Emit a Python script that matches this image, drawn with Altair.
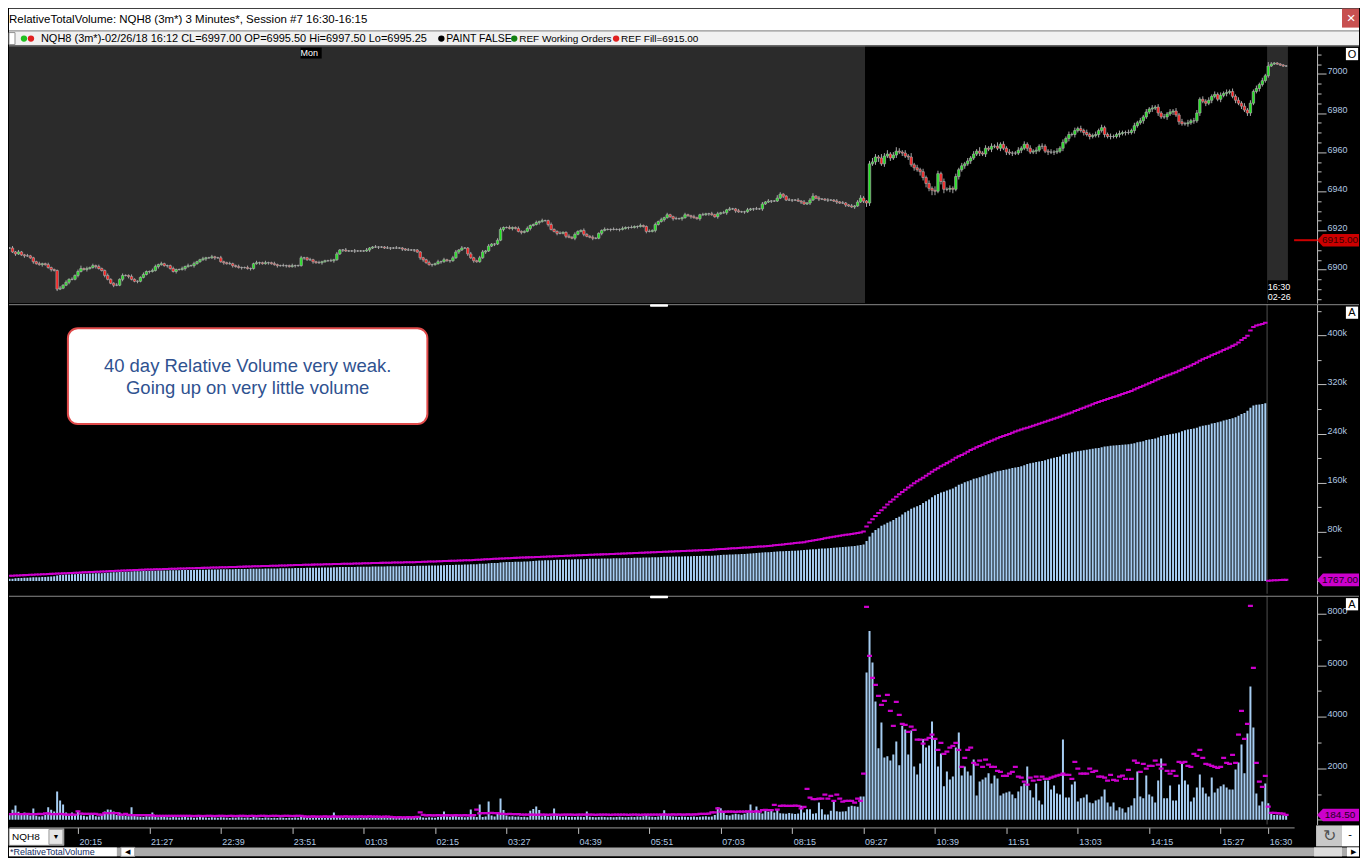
import altair as alt
import numpy as np
import pandas as pd

FONT = "Liberation Sans"

# ------------------------------------------------------------------ data
CLOSE = [
    6911, 6911, 6909, 6908, 6909, 6907.5, 6907, 6907, 6906, 6904,
    6903, 6902.5, 6903, 6902.5, 6901, 6900, 6899.5, 6890, 6890.5, 6892,
    6893.5, 6895, 6895, 6897, 6899, 6900.5, 6900, 6900.5, 6901, 6902,
    6901.5, 6900.5, 6899.5, 6897, 6895, 6893, 6892, 6892, 6895, 6897,
    6897, 6896.5, 6895, 6894, 6894, 6896, 6897.5, 6899, 6899, 6899.5,
    6901.5, 6902.5, 6903, 6902, 6902, 6900.5, 6899, 6900, 6900, 6900.5,
    6901.5, 6902, 6902, 6903, 6904, 6905, 6905.5, 6906, 6906, 6906.5,
    6906, 6906, 6904, 6903.5, 6903, 6903, 6902, 6901.5, 6901, 6901,
    6901, 6900.5, 6900.5, 6903, 6903.5, 6903.5, 6903, 6903.5, 6903.5, 6903,
    6902.5, 6902, 6902, 6902, 6902, 6901.5, 6902, 6902, 6902, 6906,
    6906, 6905, 6905, 6904, 6903.5, 6903.5, 6904, 6904.5, 6904.5, 6904.5,
    6905, 6908, 6910, 6910, 6909.5, 6909.5, 6909.5, 6909.5, 6909.5, 6909.5,
    6909.5, 6910, 6911, 6911.5, 6911.5, 6911.5, 6911.5, 6911, 6911, 6911,
    6911, 6911, 6911, 6910.5, 6910, 6910, 6910, 6910, 6909, 6906,
    6905, 6903.5, 6902.5, 6902.5, 6903, 6904, 6904, 6905, 6904.5, 6904.5,
    6906, 6909, 6910, 6911, 6911, 6908, 6906, 6904.5, 6904, 6906,
    6909, 6909.5, 6912, 6913, 6913, 6915, 6920.5, 6921.5, 6921.5, 6921,
    6921.5, 6921, 6919.5, 6919, 6919.5, 6921, 6922.5, 6923, 6924, 6924.5,
    6925, 6925, 6923, 6920.5, 6919.5, 6918.5, 6918.5, 6919, 6917, 6916.5,
    6916, 6918, 6919.5, 6920, 6918, 6917, 6916.5, 6916, 6916, 6918.5,
    6920, 6920.5, 6920.5, 6920.5, 6920.5, 6920.5, 6920.5, 6921, 6921.5, 6921.5,
    6921.5, 6922, 6922, 6922.5, 6922, 6919.5, 6919.5, 6920, 6923, 6924.5,
    6925.5, 6926.5, 6928, 6927, 6926, 6926, 6926, 6926.5, 6928, 6927.5,
    6927, 6926.5, 6926, 6928, 6928, 6928.5, 6928.5, 6928, 6927, 6928.5,
    6929, 6929, 6930.5, 6931, 6931, 6930, 6929.5, 6929.5, 6929.5, 6930.5,
    6931, 6931, 6931, 6931, 6933.5, 6934.5, 6935, 6935, 6935, 6936.5,
    6938.5, 6937.5, 6935.5, 6935.5, 6935.5, 6935.5, 6935, 6934.5, 6933.5, 6934,
    6935.5, 6937.5, 6936.5, 6936, 6936, 6935.5, 6935.5, 6935.5, 6935, 6934.5,
    6934, 6934, 6933, 6932.5, 6932, 6932.5, 6934.5, 6936.5, 6935, 6934,
    6954, 6955, 6957.5, 6957, 6954, 6958, 6959, 6957, 6958.5, 6960.5,
    6960, 6959.5, 6958, 6957.5, 6953.5, 6952, 6951, 6950, 6947, 6944,
    6941.5, 6940.5, 6940, 6949, 6945, 6941, 6941, 6941.5, 6941, 6947.5,
    6951, 6953, 6954, 6955.5, 6957, 6959, 6960.5, 6959.5, 6959, 6962,
    6961.5, 6963, 6963, 6962, 6964, 6962, 6960, 6959.5, 6959.5, 6959.5,
    6961, 6962, 6964, 6962, 6960, 6960.5, 6961, 6963, 6963, 6960.5,
    6960, 6960, 6960, 6960.5, 6962, 6965, 6967, 6969, 6969, 6971,
    6972, 6971, 6970, 6969, 6968, 6968.5, 6969, 6971, 6972.5, 6969,
    6968, 6968, 6968, 6969, 6969.5, 6970, 6970, 6970, 6971, 6973.5,
    6975, 6976, 6978, 6980.5, 6982, 6982.5, 6983, 6980, 6978, 6978,
    6979.5, 6980.5, 6981, 6979, 6975.5, 6974.5, 6974.5, 6975, 6976, 6976,
    6980, 6987, 6986, 6985, 6986.5, 6988.5, 6989.5, 6987, 6989, 6990,
    6990.5, 6991, 6988.5, 6986.5, 6985, 6983.5, 6981.5, 6980, 6985, 6991,
    6992.5, 6994.5, 6996.5, 6999, 7004, 7005, 7005.5, 7005, 7004.5, 7004,
    7004,
]

# upper / lower wick lengths, in half points
UPW = [
    2,1,2,1,2,1,1,2,1,1,1,2,1,1,2,1,1,1,2,1,
    2,1,2,1,2,3,1,2,1,2,1,2,1,1,2,1,1,2,1,2,
    1,1,2,1,1,1,2,1,1,2,2,1,2,1,1,1,2,1,1,2,
    1,2,1,2,1,1,2,1,1,2,1,1,2,1,1,2,1,1,2,1,
    1,2,1,1,2,1,1,2,1,1,2,1,1,2,1,1,2,1,1,2,
    1,1,2,1,1,2,1,1,1,2,1,2,1,1,2,1,1,2,1,1,
    1,2,1,1,2,1,1,1,2,1,1,2,1,1,1,2,1,1,1,1,
    1,1,2,1,1,2,1,2,1,1,2,2,1,2,1,1,2,1,1,2,
    2,1,2,1,1,2,2,1,1,2,1,1,2,1,1,2,1,1,2,1,
    2,1,1,2,1,1,2,1,1,2,1,2,1,1,2,1,1,2,1,1,
    1,2,1,1,2,1,1,2,1,1,2,1,1,2,1,1,2,1,2,1,
    2,1,2,1,1,2,1,1,2,1,1,2,1,1,2,1,1,2,1,2,
    1,2,1,2,1,1,2,1,1,2,1,1,2,1,2,1,2,1,1,3,
    2,1,1,2,1,1,2,1,2,1,2,3,1,2,1,1,2,1,1,2,
    1,2,1,1,2,1,2,3,2,1,3,4,3,2,4,3,4,2,3,4,
    3,2,3,2,4,2,3,2,3,2,3,2,4,3,2,3,2,3,2,3,
    2,3,2,3,2,3,2,4,2,3,2,3,2,4,2,3,2,3,2,2,
    3,2,3,2,3,2,3,2,3,2,2,3,2,3,2,3,2,3,2,3,
    2,3,2,3,2,2,3,2,3,2,2,3,2,2,3,2,2,3,2,3,
    2,3,2,3,2,3,2,3,2,3,2,3,2,3,2,3,2,3,2,3,
    3,2,3,2,3,2,3,2,3,2,3,2,3,2,3,2,3,2,3,2,
    3,2,3,2,4,2,1,1,1,1,1,
]
DNW = [
    2,1,1,2,1,1,2,1,1,2,1,1,2,1,1,2,1,2,1,1,
    1,2,1,1,2,1,1,2,1,1,2,1,1,2,1,1,2,1,1,2,
    1,2,1,1,2,1,1,1,2,1,1,2,1,1,2,1,1,2,1,1,
    2,1,1,2,1,1,1,2,1,1,2,1,1,2,1,1,2,1,1,2,
    1,1,2,1,1,2,1,1,2,1,1,2,1,1,2,1,1,2,1,1,
    2,1,1,2,1,1,2,1,1,1,2,1,1,2,1,1,1,2,1,1,
    1,1,2,1,1,2,1,1,1,2,1,1,1,2,1,1,1,2,1,2,
    2,1,1,2,1,1,2,1,1,2,1,1,2,1,1,2,1,2,1,1,
    1,2,1,1,2,1,1,2,1,1,2,1,1,2,1,1,2,1,1,2,
    1,1,2,1,1,2,1,1,2,1,1,2,1,1,2,1,1,2,1,1,
    2,1,1,2,1,1,2,1,1,2,1,1,2,1,1,2,1,1,2,1,
    1,2,1,1,2,1,1,2,1,1,2,1,1,2,1,1,2,1,1,2,
    1,1,2,1,1,2,1,1,2,1,1,2,1,1,2,1,1,2,1,1,
    1,2,1,1,2,1,1,2,1,1,2,1,1,2,1,1,2,1,1,2,
    1,1,2,1,1,2,1,1,2,4,3,2,3,4,2,3,2,3,2,3,
    2,3,2,3,2,3,2,4,3,4,3,5,4,2,3,4,2,3,4,2,
    3,2,3,2,3,2,2,3,2,3,2,3,2,2,3,2,3,2,3,2,
    2,3,2,3,2,2,3,2,3,2,3,2,3,2,2,3,2,3,2,3,
    2,2,3,2,3,2,2,3,2,3,2,3,2,2,3,2,3,2,2,3,
    2,2,3,2,2,3,2,3,2,2,3,2,3,2,3,2,2,3,2,3,
    2,3,2,3,2,3,2,2,3,2,3,2,2,3,2,3,2,3,3,2,
    2,3,2,2,2,1,1,1,1,1,1,
]

VOL = [
    200, 240, 390, 555, 310, 210, 285, 180, 160, 440,
    150, 130, 140, 180, 480, 390, 320, 1100, 750, 595,
    285, 160, 285, 180, 350, 170, 150, 130, 170, 220,
    140, 130, 180, 320, 400, 390, 320, 180, 285, 160,
    150, 140, 480, 170, 130, 120, 110, 140, 130, 285,
    110, 100, 120, 110, 100, 90, 110, 100, 90, 100,
    110, 90, 100, 80, 90, 110, 100, 90, 80, 100,
    90, 80, 100, 90, 80, 70, 90, 80, 100, 90,
    80, 90, 70, 110, 90, 80, 70, 90, 80, 70,
    80, 70, 90, 80, 70, 80, 70, 90, 80, 180,
    100, 80, 70, 80, 90, 70, 80, 70, 90, 80,
    285, 130, 110, 80, 70, 80, 90, 70, 80, 70,
    80, 90, 70, 80, 70, 80, 70, 90, 70, 80,
    70, 80, 90, 70, 80, 70, 80, 90, 110, 130,
    90, 80, 100, 90, 80, 110, 120, 320, 130, 110,
    180, 140, 110, 120, 100, 110, 400, 130, 110, 595,
    110, 130, 710, 160, 130, 230, 825, 380, 160, 130,
    140, 120, 130, 110, 120, 100, 350, 420, 515, 380,
    130, 160, 120, 140, 440, 160, 130, 120, 140, 110,
    120, 110, 130, 120, 110, 320, 120, 110, 100, 110,
    120, 110, 100, 110, 100, 110, 120, 110, 100, 110,
    120, 110, 130, 120, 140, 180, 130, 120, 110, 130,
    180, 370, 160, 140, 130, 120, 110, 130, 120, 110,
    120, 130, 110, 120, 130, 140, 120, 130, 180, 480,
    450, 280, 180, 160, 200, 230, 210, 190, 230, 280,
    595, 260, 515, 280, 240, 400, 310, 360, 280, 380,
    250, 240, 230, 260, 240, 220, 240, 540, 280, 410,
    410, 230, 250, 670, 410, 200, 200, 350, 700, 330,
    310, 320, 330, 500, 540, 520, 500, 905, 905,
    5715, 7330, 6100, 4590, 2770, 3775, 2420, 2460, 2300, 2535,
    3040, 2110, 3650, 3500, 2535, 3465, 2070, 1760, 2185, 3130,
    2805, 2885, 3815, 3130, 2070, 2575, 1295, 1875, 1565, 1680,
    2805, 3390, 1720, 2070, 1875, 1720, 2340, 945, 1485, 1565,
    1640, 1800, 1410, 1720, 1605, 945, 1020, 1060, 1100, 980,
    830, 1100, 1295, 1410, 2070, 1140, 865, 1410, 750, 595,
    1525, 1525, 1175, 1330, 1020, 980, 3115, 865, 865, 1370,
    1485, 710, 830, 865, 980, 670, 635, 750, 790, 905,
    1175, 670, 515, 670, 360, 480, 440, 285, 480, 555,
    830, 1875, 905, 830, 1720, 980, 905, 670, 1525, 2380,
    830, 830, 1330, 750, 750, 1370, 2185, 1525, 1370, 710,
    865, 1255, 1760, 1255, 1020, 905, 1640, 1060, 1215, 1295,
    1370, 1255, 1175, 1175, 1950, 2225, 2920, 1800, 3350, 5170,
    3580, 1020, 555, 710, 1410,
    635, 230, 180, 190, 170, 178, 184,
]

AVG = [
    220, 215, 220, 225, 220, 215, 220, 225, 220, 215,
    220, 225, 220, 245, 245, 220, 215, 220, 225, 220,
    200, 195, 195, 200, 320, 240, 230, 230, 225, 230,
    225, 200, 195, 260, 255, 260, 255, 260, 200, 195,
    230, 185, 180, 180, 175, 180, 175, 180, 175, 170,
    150, 145, 150, 145, 150, 145, 150, 145, 145, 150,
    145, 150, 145, 140, 150, 145, 140, 145, 150, 145,
    140, 145, 150, 145, 140, 145, 150, 140, 145, 150,
    145, 140, 150, 145, 140, 145, 150, 145, 140, 145,
    150, 145, 140, 145, 150, 145, 140, 145, 150, 145,
    130, 125, 120, 130, 125, 120, 125, 130, 120, 125,
    130, 125, 120, 125, 130, 120, 125, 120, 125, 130,
    120, 125, 130, 120, 125, 120, 115, 120, 125, 115,
    100, 95, 100, 90, 95, 100, 95, 100, 110, 285,
    190, 170, 175, 165, 170, 175, 165, 170, 175, 165,
    170, 175, 165, 170, 175, 170, 165, 175, 390, 250,
    260, 255, 260, 265, 255, 260, 230, 225, 220, 225,
    220, 215, 220, 200, 195, 195, 200, 195, 190, 195,
    200, 195, 190, 195, 200, 195, 190, 195, 200, 195,
    195, 190, 195, 200, 195, 195, 200, 195, 190, 195,
    200, 195, 195, 190, 200, 195, 195, 200, 195, 190,
    195, 200, 195, 190, 195, 200, 195, 195, 200, 195,
    200, 205, 200, 195, 205, 200, 205, 200, 195, 205,
    200, 205, 210, 230, 225, 230, 235, 285, 290, 440,
    310, 305, 310, 315, 310, 305, 310, 315, 310, 320,
    315, 310, 320, 315, 375, 380, 370, 375, 580, 390,
    540, 545, 540, 535, 540, 545, 540, 440, 500, 1200,
    855, 800, 800, 815, 815, 970, 815, 930, 735, 970,
    815, 700, 735, 735, 735, 660, 815, 735, 1785,
    8260, 6360, 5510, 5235, 4810, 4460, 4615, 4850, 4230, 3645,
    4575, 4070, 3725, 3685, 3415, 3610, 3490, 3105, 3105, 2950,
    3105, 3180, 3300, 3140, 2715, 2985, 2560, 2640, 2795, 2870,
    2985, 2715, 2055, 2405, 2715, 2795, 2210, 2135, 2290, 2055,
    2330, 2135, 2055, 2055, 1900, 1860, 1705, 1705, 1785, 1860,
    2055, 1670, 1630, 1475, 1360, 1630, 1515, 1670, 1550, 1670,
    1590, 1590, 1630, 1670, 1710, 1745, 1785, 1745, 1745, 1590,
    2250, 1980, 1785, 1785, 1785, 1980, 1860, 1900, 1670, 1670,
    1630, 1515, 1745, 1550, 1515, 1670, 1710, 1590, 1940, 1590,
    2290, 2210, 1860, 2170, 1980, 2095, 2095, 2290, 2135, 1980,
    2135, 1900, 1785, 1900, 1705, 2250, 2210, 2250, 2095, 2055,
    2560, 2480, 2715, 2405, 2170, 2135, 2095, 2055, 2015, 2055,
    2405, 2210, 2170, 2520, 2210, 3300, 4230, 3140, 3725, 8300,
    5895, 2210, 1475, 1280, 1705,
    505, 270, 270, 260, 250, 240, 184.5,
]

FIRST_OPEN = 6918.0
NEW_SESSION_START = 424      # first bar of the 16:30 session
CUMVOL_BEFORE = 3000         # session volume before the first bar shown
CUMAVG_BEFORE = 8000
RTH_START = 288.5
RTH_END = 423.6
CHART_END = 430.6
DAY_BREAK = 99               # Monday 00:00
REF_FILL = 6915.00

TIME_TICKS = [24, 48, 72, 96, 120, 144, 168, 192, 216, 240, 264, 288,
              312, 336, 360, 384, 408, 424]
TIME_LABELS = ["20:15", "21:27", "22:39", "23:51", "01:03", "02:15", "03:27",
               "04:39", "05:51", "07:03", "08:15", "09:27", "10:39", "11:51",
               "13:03", "14:15", "15:27", "16:30"]
PRICE_TICKS = list(range(6885, 7015, 5))
CUM_TICKS = list(range(0, 440001, 40000))
VOL_TICKS = list(range(0, 8001, 1000))

TITLE = "RelativeTotalVolume: NQH8 (3m*) 3 Minutes*, Session #7 16:30-16:15"
DATA_TEXT = "NQH8 (3m*)-02/26/18 16:12 CL=6997.00 OP=6995.50 Hi=6997.50 Lo=6995.25"
ANNOT = ["40 day Relative Volume very weak.", "Going up on very little volume"]

# ------------------------------------------------------------------ table
n = len(CLOSE)
assert all(len(a) == n for a in (UPW, DNW, VOL, AVG))
opens = [FIRST_OPEN] + CLOSE[:-1]
df = pd.DataFrame({"i": np.arange(n), "open": opens, "close": CLOSE,
                   "vol": VOL, "avg": AVG})
df["high"] = np.maximum(df["open"], df["close"]) + np.array(UPW) * 0.5
df["low"] = np.minimum(df["open"], df["close"]) - np.array(DNW) * 0.5
df["dir"] = np.where(df["close"] > df["open"], "up",
                     np.where(df["close"] < df["open"], "down", "flat"))
sess = (df["i"] >= NEW_SESSION_START).astype(int)
df["cumvol"] = df.groupby(sess)["vol"].cumsum() + np.where(sess == 0, CUMVOL_BEFORE, 0)
df["cumavg"] = df.groupby(sess)["avg"].cumsum() + np.where(sess == 0, CUMAVG_BEFORE, 0)
last_cum = float(df["cumvol"].iloc[-1])
last_avg = float(df["avg"].iloc[-1])

# ------------------------------------------------------------------ layout
TOTAL_W = 1352
W = 1287
H_T, H_D, H1, H2, H3, H_S = 22, 15, 258, 290, 229, 9
LBL = "#b0c8e0"
AXC = "#c0c0c0"
BLUE = "#a6cdf2"
MAG = "#cc00cc"
DASH = "M-1,-0.45L1,-0.45L1,0.45L-1,0.45Z"
TAG = "M-1,0L-0.72,-0.3L1,-0.3L1,0.3L-0.72,0.3Z"
NOFRAME = alt.ViewBackground(strokeWidth=0)

XS = alt.Scale(domain=[2.5, 431], nice=False, zero=False)
X = alt.X("i:Q", scale=XS, axis=None)
PS = alt.Scale(domain=[6882.81, 7014.44], nice=False, zero=False)
MS = alt.Scale(domain=[-20813, 450727], nice=False, zero=False)
BS = alt.Scale(domain=[-182, 8694], nice=False, zero=False)

ONE = alt.Data(values=[{"k": 0}])


def box(x0, x1, y0, y1, fill, stroke=None, sw=1.0, r=0):
    kw = dict(fill=fill, cornerRadius=r)
    if stroke:
        kw.update(stroke=stroke, strokeWidth=sw)
    return alt.Chart(ONE).mark_rect(**kw).encode(
        x=alt.value(x0), x2=alt.value(x1), y=alt.value(y0), y2=alt.value(y1))


def label(txt, x, y, size=10, color="#000000", align="left", baseline="middle"):
    return alt.Chart(ONE).mark_text(text=txt, fontSize=size, color=color, align=align,
                                    baseline=baseline, font=FONT).encode(
        x=alt.value(x), y=alt.value(y))


def hline(y, x0, x1, color, sw=1.0):
    return alt.Chart(ONE).mark_rule(color=color, strokeWidth=sw).encode(
        x=alt.value(x0), x2=alt.value(x1), y=alt.value(y))


def dot(x, y, color, size=40):
    return alt.Chart(ONE).mark_point(shape="circle", filled=True, size=size, color=color,
                                     opacity=1).encode(x=alt.value(x), y=alt.value(y))


def right_axis(values, test, expr):
    return alt.Axis(orient="right", offset=23, values=values,
                    tickSize={"condition": {"test": test, "value": 9}, "value": 4},
                    labelExpr=expr, labelPadding=1, labelBaseline="alphabetic",
                    labelColor=LBL, labelFontSize=9, labelFont=FONT,
                    tickColor=AXC, domainColor=AXC, grid=False, title=None,
                    labelOverlap=False, labelFlush=False, labelBound=False)


def tag(yval, fill, txt, scale, axis, txt_color):
    yd = alt.YDatum(yval, scale=scale, axis=axis)
    mk = alt.Chart(ONE).mark_point(shape=TAG, size=42 * 42, filled=True, color=fill,
                                   opacity=1).encode(x=alt.value(1331), y=yd)
    tx = alt.Chart(ONE).mark_text(text=txt, fontSize=10, font=FONT, color=txt_color,
                                  align="center", baseline="middle").encode(
        x=alt.value(1333), y=yd)
    return [mk, tx]


def corner_letter(letter):
    sq = alt.Chart(ONE).mark_point(shape="square", size=150, filled=True, color="#ffffff",
                                   opacity=1).encode(x=alt.value(1345), y=alt.value(8.5))
    return [sq, label(letter, 1345, 9, 11, "#000000", "center")]


base = alt.Chart(df)

# ---------------- title row
title_row = alt.layer(
    label(TITLE, 0, 11, 11.5, "#000000"),
    box(1335, 1352, 0, 19, "#c75050"),
    label("\u00d7", 1344, 9.5, 15, "#ffffff", "center"),
).properties(width=TOTAL_W, height=H_T,
             view=alt.ViewBackground(fill="#ffffff", strokeWidth=0))

# ---------------- data line row
data_row = alt.layer(
    hline(0.5, 0, TOTAL_W, "#a0a0a0"),
    box(0, 6, 2, 14, "#ffffff", "#909090"),
    dot(15, 8, "#20c020"), dot(22, 8, "#e02020"),
    label(DATA_TEXT, 32, 8, 11, "#000000"),
    dot(433, 8, "#000000"), label("PAINT FALSE", 438, 8, 10.5, "#000000"),
    dot(506, 8, "#108010"), label("REF Working Orders", 511, 8, 10, "#000000"),
    dot(608, 8, "#e02020"), label("REF Fill=6915.00", 613, 8, 10, "#000000"),
).properties(width=TOTAL_W, height=H_D,
             view=alt.ViewBackground(fill="#f0f0f0", strokeWidth=0))

# ---------------- price panel
price_axis = right_axis(PRICE_TICKS, "datum.value % 20 === 0",
                        "datum.value % 20 === 0 ? format(datum.value, 'd') : ''")
shade_df = pd.DataFrame({"x0": [-1, RTH_START, RTH_END], "x1": [RTH_START, RTH_END, CHART_END],
                         "kind": ["eth", "rth", "eth"]})
shade = alt.Chart(shade_df).mark_rect(clip=True).encode(
    x=alt.X("x0:Q", scale=XS, axis=None), x2="x1:Q",
    y=alt.value(0), y2=alt.value(H1),
    color=alt.Color("kind:N", scale=alt.Scale(domain=["eth", "rth"],
                                              range=["#2b2b2b", "#000000"]), legend=None))
wick = base.mark_rule(color="#a8a8a8", strokeWidth=1, clip=True).encode(
    x=X, y=alt.Y("low:Q", scale=PS, axis=price_axis), y2="high:Q")
body = base.mark_bar(size=2.4, stroke="#a8a8a8", strokeWidth=0.7, clip=True).encode(
    x=X, y=alt.Y("open:Q", scale=PS, axis=price_axis), y2="close:Q",
    fill=alt.Fill("dir:N", scale=alt.Scale(domain=["up", "down", "flat"],
                                           range=["#1ee61e", "#ff1a1a", "#a8a8a8"]),
                  legend=None))
ref_line = alt.Chart(ONE).mark_rule(color="#cc0000", strokeWidth=2).encode(
    x=alt.value(W), x2=alt.value(W + 23), y=alt.YDatum(REF_FILL, scale=PS, axis=price_axis))
mon_df = pd.DataFrame({"a": [DAY_BREAK - 0.2], "b": [DAY_BREAK + 6.9], "t": ["Mon"]})
mon_bg = alt.Chart(mon_df).mark_rect(color="#000000").encode(
    x=alt.X("a:Q", scale=XS, axis=None), x2="b:Q", y=alt.value(2), y2=alt.value(13))
mon_tx = alt.Chart(mon_df).mark_text(fontSize=9, font=FONT, color="#ffffff", align="left",
                                     baseline="middle").encode(
    x=alt.X("a:Q", scale=XS, axis=None), y=alt.value(7.5), text="t:N")
ses_df = pd.DataFrame({"a": [RTH_END + 0.2], "b": [431.5], "t1": ["16:30"], "t2": ["02-26"]})
ses_bg = alt.Chart(ses_df).mark_rect(color="#000000", clip=True).encode(
    x=alt.X("a:Q", scale=XS, axis=None), x2="b:Q", y=alt.value(235), y2=alt.value(H1))
ses_t1 = alt.Chart(ses_df).mark_text(fontSize=9, font=FONT, color="#ffffff", align="left",
                                     baseline="middle").encode(
    x=alt.X("a:Q", scale=XS, axis=None), y=alt.value(242), text="t1:N")
ses_t2 = alt.Chart(ses_df).mark_text(fontSize=9, font=FONT, color="#ffffff", align="left",
                                     baseline="middle").encode(
    x=alt.X("a:Q", scale=XS, axis=None), y=alt.value(252), text="t2:N")

price = alt.layer(
    shade, wick, body, ref_line,
    *tag(REF_FILL, "#cc0000", f"{REF_FILL:.2f}", PS, price_axis, "#3a0000"),
    mon_bg, mon_tx, ses_bg, ses_t1, ses_t2,
    hline(0.5, 0, TOTAL_W, "#707070"),
    *corner_letter("O"),
).properties(width=W, height=H1, view=NOFRAME)

# ---------------- middle panel (cumulative)
sep_df = pd.DataFrame({"b": [RTH_END]})
mid_axis = right_axis(CUM_TICKS, "datum.value % 80000 === 0",
                      "datum.value > 0 && datum.value % 80000 === 0 ? "
                      "format(datum.value / 1000, 'd') + 'k' : ''")
mid_bars = base.mark_bar(size=2, color=BLUE, clip=True).encode(
    x=X, y=alt.Y("cumvol:Q", scale=MS, axis=mid_axis), y2=alt.datum(0))
mid_dots = base.mark_point(shape=DASH, size=20, filled=True, color=MAG, opacity=1,
                           clip=True).encode(
    x=X, y=alt.Y("cumavg:Q", scale=MS, axis=mid_axis))
mid_sep = alt.Chart(sep_df).mark_rule(color="#505050", strokeWidth=1).encode(
    x=alt.X("b:Q", scale=XS, axis=None), y=alt.value(0), y2=alt.value(H2))

ann_box = box(59, 419, 24, 120, "#ffffff", "#e04a4a", 2, 10)
ann_t1 = label(ANNOT[0], 239, 62, 18.5, "#2f5290", "center")
ann_t2 = label(ANNOT[1], 239, 84, 18.5, "#2f5290", "center")

middle = alt.layer(
    mid_sep, mid_bars, mid_dots,
    *tag(last_cum, MAG, f"{last_cum:.2f}", MS, mid_axis, "#1a001a"),
    hline(0.5, 0, TOTAL_W, "#8a8a8a"),
    box(642, 660, 0, 2.5, "#ffffff", r=1),
    *corner_letter("A"),
    ann_box, ann_t1, ann_t2,
).properties(width=W, height=H2, view=NOFRAME)

# ---------------- bottom panel (per-bar volume)
tv = "[" + ",".join(str(v) for v in TIME_TICKS) + "]"
tl = "[" + ",".join(f"'{s}'" for s in TIME_LABELS) + "]"
time_axis = alt.Axis(values=TIME_TICKS, labelExpr=f"{tl}[indexof({tv}, datum.value)]",
                     orient="bottom", offset=3, tickSize=6, labelPadding=4,
                     labelAlign="left", labelBaseline="top", labelOffset=1,
                     labelColor=LBL, labelFontSize=9, labelFont=FONT,
                     tickColor=AXC, domainColor="#9a9a9a", grid=False, title=None,
                     labelFlush=False, labelOverlap=False, labelBound=False)
bot_axis = right_axis(VOL_TICKS, "datum.value % 2000 === 0",
                      "datum.value > 0 && datum.value % 2000 === 0 ? "
                      "format(datum.value, 'd') : ''")
XT = alt.X("i:Q", scale=XS, axis=time_axis)
bot_bars = base.mark_bar(size=2, color=BLUE, clip=True).encode(
    x=XT, y=alt.Y("vol:Q", scale=BS, axis=bot_axis), y2=alt.datum(0))
bot_dots = base.mark_point(shape=DASH, size=25, filled=True, color=MAG, opacity=1,
                           clip=True).encode(
    x=XT, y=alt.Y("avg:Q", scale=BS, axis=bot_axis))
bot_sep = alt.Chart(sep_df).mark_rule(color="#505050", strokeWidth=1).encode(
    x=alt.X("b:Q", scale=XS, axis=time_axis), y=alt.value(0), y2=alt.value(H3))

bottom = alt.layer(
    bot_sep, bot_bars, bot_dots,
    *tag(last_avg, MAG, f"{last_avg:.2f}", BS, bot_axis, "#1a001a"),
    hline(0.5, 0, TOTAL_W, "#8a8a8a"),
    box(642, 660, 0, 2.5, "#ffffff", r=1),
    *corner_letter("A"),
    box(0, 55, H3 + 4, H3 + 21, "#ffffff", "#7a7a7a"),
    label("NQH8", 3, H3 + 12.5, 10, "#000000"),
    box(40, 54, H3 + 5, H3 + 20, "#e6e6e6", "#9a9a9a"),
    label("\u25bc", 47, H3 + 12.5, 7, "#000000", "center"),
    box(1309, 1335, H3 + 1, H3 + 22, "#c8c8c8"),
    label("\u21bb", 1322, H3 + 11.5, 16, "#505050", "center"),
    box(1335, 1352, H3 + 1, H3 + 22, "#ffffff"),
    label("-", 1343, H3 + 11, 11, "#000000", "center"),
).properties(width=W, height=H3, view=NOFRAME)

# ---------------- bottom strip
strip = alt.layer(
    box(0, 108, 0, H_S, "#ffffff"),
    label("*RelativeTotalVolume", 1, 4.5, 9, "#102a60"),
    box(112, 126, 0, H_S, "#ffffff", "#9a9a9a"),
    label("\u25c0", 119, 4.5, 7, "#000000", "center"),
    box(1307, 1335, 0, H_S, "#dcdcdc"),
    box(1340, 1352, 0, H_S, "#ffffff"),
    label("\u25b6", 1346, 4.5, 7, "#000000", "center"),
).properties(width=TOTAL_W, height=H_S,
             view=alt.ViewBackground(fill="#ababab", strokeWidth=0))

chart = alt.vconcat(title_row, data_row, price, middle, bottom, strip, spacing=0).properties(
    padding=0, background="#000000"
).configure(font=FONT).configure_view(strokeWidth=0)

chart.save("out.html", embed_options={"renderer": "svg", "actions": False})
